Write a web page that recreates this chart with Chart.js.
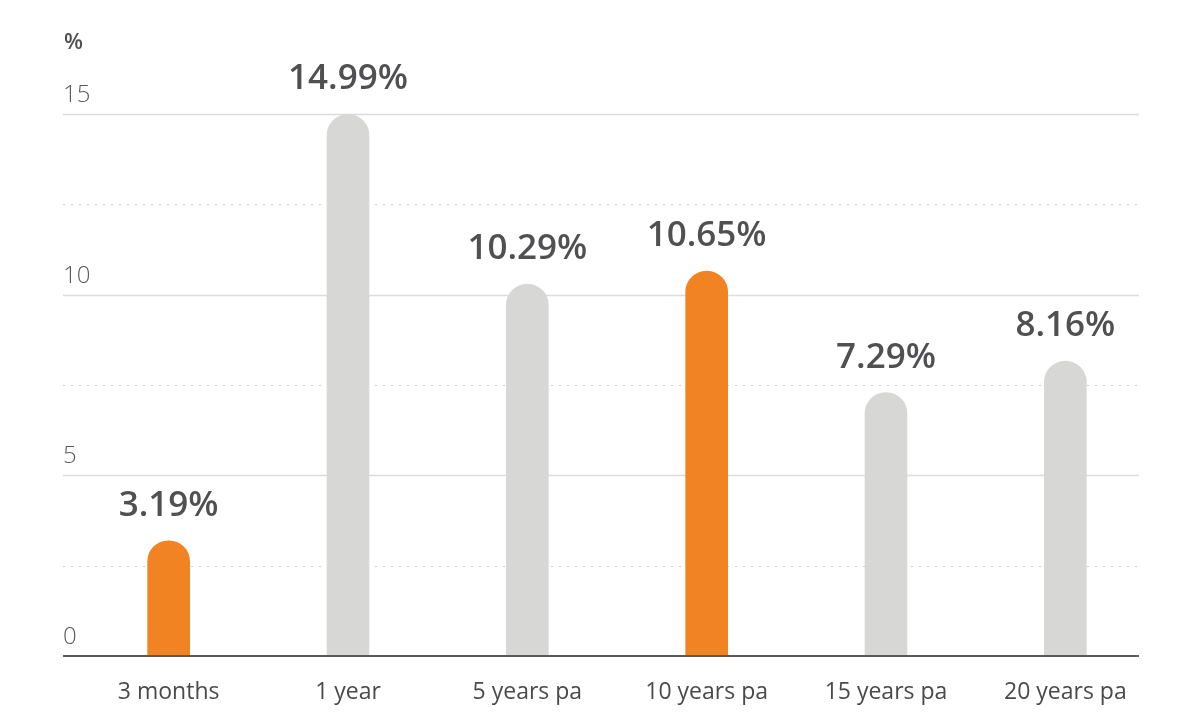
<!DOCTYPE html>
<html lang="en">
<head>
    <meta charset="UTF-8">
    <title>Returns</title>
    <script src="https://cdn.jsdelivr.net/npm/chart.js"></script>
    <style>
        html, body { margin: 0; padding: 0; background: #fff; }
        #wrap { width: 1200px; height: 720px; }
    </style>
</head>
<body>
    <div id="wrap"><canvas id="returnsChart"></canvas></div>

    <script>
        const periods = ['3 months', '1 year', '5 years pa', '10 years pa', '15 years pa', '20 years pa'];
        const returns = [3.19, 14.99, 10.29, 10.65, 7.29, 8.16];
        const highlight = [true, false, false, true, false, false];
        const yTicks = [0, 5, 10, 15];
        const unitLabel = '%';

        const ORANGE = '#f28322';
        const GREY = '#d7d7d6';
        const TEXT = '#505052';
        const FONT = "'Open Sans', sans-serif";

        // grid lines, y labels and baseline; they start a little left of the plot like the original
        const gridPlugin = {
            id: 'customGrid',
            beforeDatasetsDraw(chart) {
                const { ctx, chartArea, scales } = chart;
                const y = scales.y;
                const x0 = chartArea.left - 16;
                const x1 = chartArea.right - 16;
                ctx.save();
                for (let v = 2.5; v <= 15; v += 2.5) {
                    const py = Math.round(y.getPixelForValue(v)) + 0.5;
                    ctx.beginPath();
                    ctx.strokeStyle = v % 5 === 0 ? '#dcdcdc' : '#d0d0d0';
                    ctx.lineWidth = v % 5 === 0 ? 1.5 : 1;
                    ctx.setLineDash(v % 5 === 0 ? [] : [2, 6]);
                    ctx.moveTo(x0, py);
                    ctx.lineTo(x1, py);
                    ctx.stroke();
                }
                ctx.setLineDash([]);
                ctx.fillStyle = '#5a5a5a';
                ctx.font = "300 24px " + FONT;
                ctx.textAlign = 'left';
                ctx.textBaseline = 'alphabetic';
                yTicks.forEach(v => {
                    ctx.fillText(String(v), x0, y.getPixelForValue(v) - 12);
                });
                // unit label above the axis
                ctx.fillStyle = TEXT;
                ctx.font = "600 22px " + FONT;
                ctx.textBaseline = 'middle';
                ctx.fillText(unitLabel, x0 + 1, 43);
                ctx.restore();
            },
            afterDatasetsDraw(chart) {
                const { ctx, chartArea, scales } = chart;
                const py = scales.y.getPixelForValue(0);
                ctx.save();
                ctx.strokeStyle = '#5a5a5a';
                ctx.lineWidth = 2;
                ctx.beginPath();
                ctx.moveTo(chartArea.left - 16, py);
                ctx.lineTo(chartArea.right - 16, py);
                ctx.stroke();

                // value labels above each bar
                const meta = chart.getDatasetMeta(0);
                ctx.fillStyle = TEXT;
                ctx.font = "600 35px " + FONT;
                ctx.textAlign = 'center';
                ctx.textBaseline = 'alphabetic';
                meta.data.forEach((bar, i) => {
                    ctx.fillText(returns[i].toFixed(2) + '%', bar.x, bar.y - 25);
                });
                ctx.restore();
            }
        };

        const ctx = document.getElementById('returnsChart').getContext('2d');
        new Chart(ctx, {
            type: 'bar',
            data: {
                labels: periods,
                datasets: [{
                    data: returns,
                    backgroundColor: highlight.map(h => h ? ORANGE : GREY),
                    barThickness: 42,
                    borderRadius: 21,
                    borderSkipped: 'start'
                }]
            },
            options: {
                responsive: true,
                maintainAspectRatio: false,
                animation: false,
                layout: { padding: { left: 79, right: 45, top: 114, bottom: 0 } },
                plugins: {
                    legend: { display: false },
                    tooltip: { enabled: false }
                },
                scales: {
                    x: {
                        afterFit(scale) { scale.height = 64; },
                        grid: { display: false, drawTicks: false },
                        border: { display: false },
                        ticks: {
                            color: '#4a4a4a',
                            font: { family: FONT, size: 23 },
                            padding: 23
                        }
                    },
                    y: {
                        display: false,
                        min: 0,
                        max: 15
                    }
                }
            },
            plugins: [gridPlugin]
        });
    </script>
</body>
</html>
